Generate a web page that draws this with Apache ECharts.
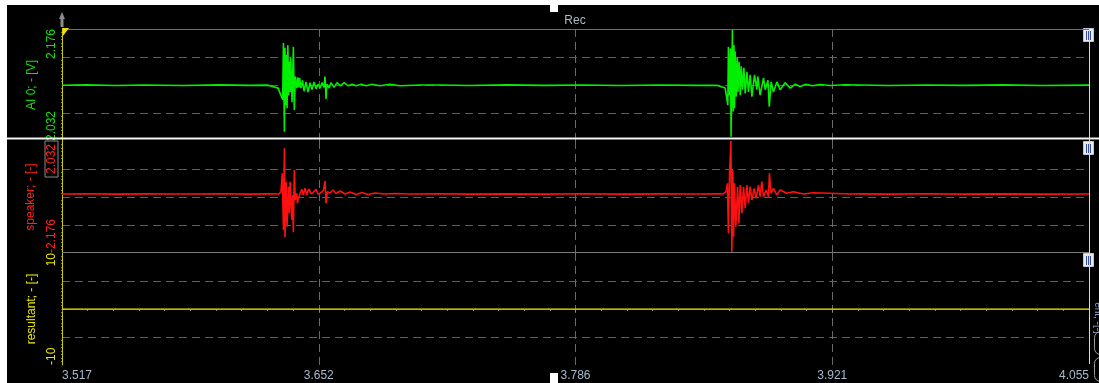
<!DOCTYPE html>
<html><head><meta charset="utf-8">
<script src="https://cdn.jsdelivr.net/npm/echarts@6/dist/echarts.min.js"></script>
<style>html,body{margin:0;padding:0;background:#fff;overflow:hidden}#c{width:1099px;height:383px}</style>
</head><body><div id="c"></div>
<script>
// ---- data ----
const xTickLabels = ['3.517','3.652','3.786','3.921','4.055'];
const X_MIN = 3.517, X_MAX = 4.055;
const greenRange = [2.032, 2.176];
const redRange = [-2.176, 2.032];
const yellowRange = [-10, 10];
const greenTickLabels = ['2.032','2.176'];
const redTickLabels = ['-2.176','2.032'];
const yellowTickLabels = ['-10','10'];
const axisNames = ['AI 0; - [V]', 'speaker; - [-]', 'resultant; - [-]'];
const titleText = 'Rec';

const greenTime = [
3.5170,3.5300,3.5450,3.5600,3.5800,3.6000,3.6150,3.6250,
3.6302,3.6312,3.6326,3.6330,3.6335,3.6338,3.6344,3.6346,3.6349,3.6353,
3.6357,3.6361,3.6365,3.6368,3.6375,3.6382,3.6387,3.6392,3.6400,3.6405,
3.6410,3.6415,3.6422,3.6430,3.6438,3.6448,3.6459,3.6469,3.6480,3.6490,
3.6501,3.6511,3.6522,3.6532,3.6543,3.6548,3.6553,3.6558,3.6569,3.6579,
3.6595,3.6611,3.6627,3.6648,3.6669,3.6690,3.6710,3.6737,3.6763,3.6794,
3.6836,3.6889,3.6941,3.7046,
3.7150,3.7300,3.7500,3.7700,3.7900,3.8100,3.8300,3.8500,3.8600,
3.8644,3.8658,3.8661,3.8667,3.8672,3.8675,3.8682,3.8686,3.8690,3.8693,
3.8696,3.8702,3.8707,3.8711,3.8717,3.8723,3.8728,3.8735,3.8742,3.8749,
3.8758,3.8766,3.8775,3.8784,3.8798,3.8810,3.8815,3.8827,3.8845,3.8854,
3.8868,3.8875,3.8885,3.8897,3.8915,3.8932,3.8958,3.8985,3.9011,3.9037,
3.9068,3.9100,3.9142,3.9194,3.9273,
3.9350,3.9500,3.9700,3.9900,4.0100,4.0300,4.0550];
const greenValue = [
2.1036,2.1041,2.1033,2.1040,2.1034,2.1041,2.1035,2.1038,
2.100,2.102,2.085,2.158,2.044,2.152,2.078,2.143,2.074,2.155,
2.091,2.134,2.095,2.139,2.082,2.153,2.072,2.115,2.100,2.114,
2.101,2.113,2.100,2.110,2.096,2.108,2.095,2.107,2.098,2.108,
2.099,2.105,2.100,2.107,2.101,2.115,2.086,2.105,2.100,2.107,
2.101,2.107,2.103,2.107,2.103,2.105,2.103,2.105,2.103,2.105,
2.103,2.105,2.103,2.104,
2.1040,2.1034,2.1041,2.1035,2.1040,2.1034,2.1040,2.1035,2.1037,
2.100,2.078,2.153,2.091,2.151,2.0375,2.176,2.070,2.155,2.074,
2.147,2.089,2.140,2.095,2.134,2.091,2.128,2.098,2.126,2.093,
2.121,2.095,2.117,2.089,2.117,2.098,2.115,2.091,2.113,2.098,
2.110,2.076,2.108,2.095,2.108,2.098,2.107,2.100,2.105,2.102,
2.105,2.103,2.1046,2.1034,2.1043,
2.1040,2.1034,2.1040,2.1035,2.1041,2.1034,2.1038];

const redTime = [
3.5170,3.5300,3.5450,3.5600,3.5800,3.6000,3.6150,3.6250,
3.6307,3.6317,3.6324,3.6330,3.6335,3.6338,3.6344,3.6349,3.6356,3.6361,
3.6365,3.6374,3.6378,3.6382,3.6387,3.6392,3.6400,3.6403,3.6408,3.6417,
3.6426,3.6434,3.6443,3.6452,3.6462,3.6469,3.6477,3.6487,3.6501,3.6511,
3.6522,3.6539,3.6548,3.6553,3.6560,3.6574,3.6590,3.6606,3.6627,3.6653,
3.6679,3.6710,3.6742,3.6773,3.6810,3.6862,3.6915,3.6993,
3.7150,3.7300,3.7500,3.7700,3.7900,3.8100,3.8300,3.8500,3.8600,
3.8634,3.8649,3.8656,3.8661,3.8667,3.8674,3.8679,3.8684,3.8688,3.8693,
3.8700,3.8709,3.8716,3.8723,3.8732,3.8740,3.8749,3.8758,3.8766,3.8775,
3.8784,3.8796,3.8806,3.8819,3.8827,3.8836,3.8845,3.8859,3.8871,3.8876,
3.8884,3.8897,3.8915,3.8932,3.8967,3.9002,3.9054,3.9105,3.9194,3.9299,
3.9350,3.9500,3.9700,3.9900,4.0100,4.0300,4.0550];
const redValue = [
0.041,0.050,0.035,0.046,0.038,0.049,0.036,0.044,
0.041,0.127,0.818,-1.312,1.758,-1.586,0.503,-1.188,0.315,-0.684,
0.503,-0.936,0.003,-1.398,0.942,-0.185,0.067,-0.309,-0.121,-0.185,
0.217,0.003,0.255,0.003,0.229,0.191,0.041,0.090,0.217,0.041,
0.067,0.165,0.529,-0.309,0.127,0.078,0.191,0.060,0.153,0.041,
0.116,0.022,0.097,0.022,0.078,0.041,0.060,0.041,
0.048,0.036,0.047,0.037,0.049,0.035,0.046,0.038,0.044,
0.041,0.127,0.443,-1.436,0.818,2.032,-2.127,0.942,-1.564,0.443,
-1.188,0.315,-1.060,0.379,-0.684,0.315,-0.497,0.379,-0.309,0.315,
-0.185,0.255,-0.121,0.379,-0.061,0.503,-0.061,0.191,-0.061,0.818,
0.067,0.255,0.003,0.191,0.067,0.127,0.041,0.090,0.067,0.041,
0.047,0.036,0.048,0.037,0.046,0.035,0.043];

const yellowTime = [3.517, 4.055];
const yellowValue = [0, 0];

// ---- chart ----
const FONT = 'Liberation Sans, Arial, sans-serif';
const GRID_TOPS = [29, 141, 253];
const GRID_H = 112;
const COLORS = ['#00f000', '#ff1010', '#f0f000'];
const LABEL_COLORS = ['#10e010', '#ff2020', '#e8e800'];
const ranges = [greenRange, redRange, yellowRange];
const tickLabels = [greenTickLabels, redTickLabels, yellowTickLabels];

const xSpan = X_MAX - X_MIN;
const grids = GRID_TOPS.map(t => ({left: 62, right: 10, top: t, height: GRID_H, show: false}));

const xAxes = [0,1,2].map(i => ({
  type: 'value', gridIndex: i, min: 0, max: xSpan, interval: xSpan / 4,
  axisLine: {show: i === 2, lineStyle: {color: '#7a7a7a', width: 1}},
  axisTick: {show: i === 2, length: 3, lineStyle: {color: '#8a8a8a'}},
  minorTick: {show: i === 2, splitNumber: 10, length: 2, lineStyle: {color: '#8a8a8a'}},
  axisLabel: {
    show: i === 2, color: '#a9b9cc', fontSize: 12, fontFamily: FONT, margin: 5,
    alignMinLabel: 'left', alignMaxLabel: 'right',
    formatter: v => xTickLabels[Math.round(v / (xSpan / 4))] || ''
  },
  splitLine: {show: true, showMinLine: false, showMaxLine: false,
    lineStyle: {color: '#6a6a6a', type: [8, 5], width: 1}}
}));

const yAxes = [0,1,2].map(i => {
  const r = ranges[i];
  const span = r[1] - r[0];
  const shifted = i !== 2;
  return {
    type: 'value', gridIndex: i,
    min: shifted ? 0 : r[0], max: shifted ? span : r[1], interval: span / 4,
    name: axisNames[i], nameLocation: 'middle', nameRotate: 90, nameGap: 18,
    nameTextStyle: {color: LABEL_COLORS[i], fontSize: 12, fontFamily: FONT},
    axisLine: {show: true, lineStyle: {color: '#c8c800', width: 1}},
    axisTick: {show: false},
    minorTick: {show: true, splitNumber: 8, length: 1, lineStyle: {color: '#8a8a00'}},
    axisLabel: {
      show: true, rotate: 90, margin: 4, color: LABEL_COLORS[i], fontSize: 12, fontFamily: FONT,
      alignMinLabel: 'left', alignMaxLabel: 'right',
      formatter: (v) => {
        const base = shifted ? 0 : r[0];
        const top = shifted ? span : r[1];
        if (Math.abs(v - base) < 1e-6) return tickLabels[i][0];
        if (Math.abs(v - top) < 1e-6) return (i === 1 ? '{box|' + tickLabels[i][1] + '}' : tickLabels[i][1]);
        return '';
      },
      rich: {box: {color: LABEL_COLORS[1], fontSize: 12, fontFamily: FONT, borderColor: '#8a8a8a', borderWidth: 1, padding: [1, 3, 0, 3]}}
    },
    splitLine: {show: true, showMinLine: false, showMaxLine: false,
      lineStyle: {color: '#606060', type: [8, 5], width: 1}}
  };
});

function mk(times, vals, off) { return times.map((t, k) => [t - X_MIN, vals[k] - off]); }

const series = [
  {type: 'line', xAxisIndex: 0, yAxisIndex: 0, data: mk(greenTime, greenValue, greenRange[0]),
   showSymbol: false, symbol: 'none', lineStyle: {color: COLORS[0], width: 1.6}, z: 5},
  {type: 'line', xAxisIndex: 1, yAxisIndex: 1, data: mk(redTime, redValue, redRange[0]),
   showSymbol: false, symbol: 'none', lineStyle: {color: COLORS[1], width: 1.6}, z: 5},
  {type: 'line', xAxisIndex: 2, yAxisIndex: 2, data: mk(yellowTime, yellowValue, 0),
   showSymbol: false, symbol: 'none', lineStyle: {color: COLORS[2], width: 1}, z: 5}
];

const W = 1099, H = 383;
function hline(y, x1, x2, c, w) { return {type: 'line', z: 20, shape: {x1: x1, y1: y, x2: x2, y2: y}, style: {stroke: c, lineWidth: w}}; }
function handle(y) {
  return {type: 'group', z: 30, children: [
    {type: 'rect', shape: {x: 1083.5, y: y + 0.5, width: 10, height: 13}, style: {fill: '#e4e9f2', stroke: '#c0c8d8', lineWidth: 1}},
    {type: 'line', shape: {x1: 1086.5, y1: y + 3, x2: 1086.5, y2: y + 12}, style: {stroke: '#3a4f9a', lineWidth: 1}},
    {type: 'line', shape: {x1: 1088.5, y1: y + 3, x2: 1088.5, y2: y + 12}, style: {stroke: '#3a4f9a', lineWidth: 1}},
    {type: 'line', shape: {x1: 1090.5, y1: y + 3, x2: 1090.5, y2: y + 12}, style: {stroke: '#3a4f9a', lineWidth: 1}}
  ]};
}
const graphic = [
  {type: 'rect', z: 40, shape: {x: 0, y: 0, width: W, height: 5}, style: {fill: '#ffffff'}},
  {type: 'rect', z: 40, shape: {x: 0, y: 0, width: 7, height: H}, style: {fill: '#ffffff'}},
  {type: 'rect', z: 40, shape: {x: 550, y: 0, width: 8, height: 12}, style: {fill: '#ffffff'}},
  {type: 'rect', z: 40, shape: {x: 550, y: 373, width: 8, height: 10}, style: {fill: '#ffffff'}},
  {type: 'text', z: 20, x: 575, y: 21, style: {text: titleText, fill: '#aebccc', font: '12px ' + FONT, align: 'center', verticalAlign: 'middle'}},
  hline(29.5, 62, 1089, '#6e6e6e', 1),
  hline(252.5, 62, 1089, '#7a7a7a', 1),
  hline(138.5, 7, W, '#f2f2f2', 2),
  {type: 'line', z: 20, shape: {x1: 1089.5, y1: 29, x2: 1089.5, y2: 364}, style: {stroke: '#d8d8d8', lineWidth: 1}},
  {type: 'polygon', z: 25, shape: {points: [[59, 19], [62, 12], [65, 19]]}, style: {fill: '#8c8c8c'}},
  {type: 'rect', z: 25, shape: {x: 60.5, y: 18, width: 3, height: 9}, style: {fill: '#8c8c8c'}},
  {type: 'polygon', z: 25, shape: {points: [[62, 28], [69, 28], [63, 36]]}, style: {fill: '#f0e000'}},
  handle(28), handle(141), handle(253),
  {type: 'rect', z: 25, shape: {x: 1094.5, y: 331.5, width: 14, height: 23, r: 6}, style: {fill: 'none', stroke: '#9a9a9a', lineWidth: 1}},
  {type: 'rect', z: 25, shape: {x: 1094.5, y: 357.5, width: 14, height: 24, r: 6}, style: {fill: 'none', stroke: '#9a9a9a', lineWidth: 1}},
  {type: 'text', z: 25, x: 1098, y: 318, rotation: -Math.PI / 2, style: {text: 'ent; -[-]', fill: '#8fa8c8', font: '10px ' + FONT, align: 'center', verticalAlign: 'middle'}}
];

const chart = echarts.init(document.getElementById('c'), null, {renderer: 'canvas'});
chart.setOption({
  backgroundColor: '#000000',
  animation: false,
  grid: grids, xAxis: xAxes, yAxis: yAxes, series: series, graphic: graphic
});
</script></body></html>
